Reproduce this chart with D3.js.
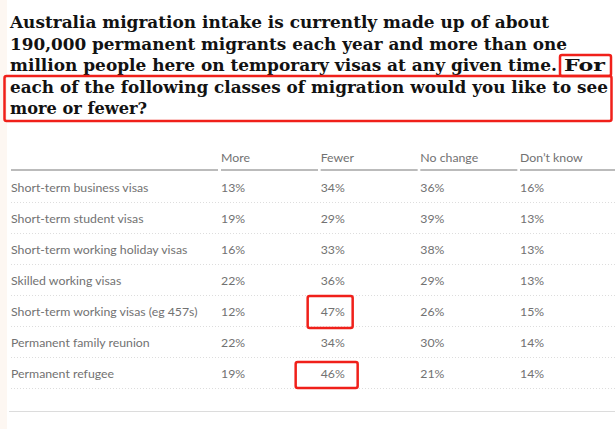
<!DOCTYPE html>
<html>
<head>
<meta charset="utf-8">
<script src="https://cdn.jsdelivr.net/npm/d3@7"></script>
<style>
  body { margin: 0; background: #fff; }
  svg { display: block; }
</style>
</head>
<body>
<div id="chart"></div>
<script>
// survey categories and answer columns
const categories = [
  'Short-term business visas',
  'Short-term student visas',
  'Short-term working holiday visas',
  'Skilled working visas',
  'Short-term working visas (eg 457s)',
  'Permanent family reunion',
  'Permanent refugee'
];
const columns = ['More', 'Fewer', 'No change', 'Don\u2019t know'];
const more = [13, 19, 16, 22, 12, 22, 19];
const fewer = [34, 29, 33, 36, 47, 34, 46];
const noChange = [36, 39, 38, 29, 26, 30, 21];
const dontKnow = [16, 13, 13, 13, 15, 14, 14];
// title pieces: [text, x, line, width it has in the original]
const titleParts = [
  ['Australia migration intake is currently made up of about', 10, 0, 539],
  ['190,000 permanent migrants each year and more than one', 10, 1, 557],
  ['million people here on temporary visas at any given time.', 10, 2, 547],
  ['For', 564, 2, 41],
  ['each of the following classes of migration would you like to see', 10, 3, 598],
  ['more or fewer?', 10, 4, 137]
];
// cells circled in the picture: [row, column]
const highlighted = [[4, 1], [6, 1]];

const W = 615, H = 429;
const svg = d3.select('#chart').append('svg').attr('width', W).attr('height', H);

// pale strip on the left edge
svg.append('rect').attr('x', 0).attr('y', 0).attr('width', 7).attr('height', H).attr('fill', '#fdf7f2');

// title
const title = svg.append('text')
  .attr('font-family', '"DejaVu Serif", serif')
  .attr('font-weight', 'bold')
  .attr('font-size', 16.8)
  .attr('fill', '#121212');
titleParts.forEach(p => {
  title.append('tspan').attr('x', p[1]).attr('y', 28 + p[2] * 21.5)
    .attr('textLength', p[3]).attr('lengthAdjust', 'spacingAndGlyphs')
    .text(p[0]);
});

// red annotation boxes on the title
svg.append('rect').attr('x', 560).attr('y', 55).attr('width', 51).attr('height', 21).attr('rx', 2)
  .attr('fill', 'none').attr('stroke', '#f0201a').attr('stroke-width', 2.5);
svg.append('rect').attr('x', 4.5).attr('y', 76).attr('width', 607).attr('height', 45).attr('rx', 2)
  .attr('fill', 'none').attr('stroke', '#f0201a').attr('stroke-width', 2.5);

// table
const values = [more, fewer, noChange, dontKnow];
const colX = d3.scalePoint().domain(columns).range([221, 520]);
const colW = 97;
const y = d3.scaleBand().domain(categories).range([172, 389]);
const font = 'Lato, "Open Sans", sans-serif';
const grey = '#727272';

const table = svg.append('g').attr('font-family', font).attr('font-size', 12.3).attr('fill', grey);

// header
table.selectAll('.head').data(columns).enter().append('text')
  .attr('x', d => colX(d)).attr('y', 162).text(d => d);
const segs = [[11, 218]].concat(columns.map(c => [colX(c), colX(c) + colW]));
svg.selectAll('.hline').data(segs).enter().append('line')
  .attr('x1', d => d[0]).attr('x2', d => Math.min(d[1], W))
  .attr('y1', 170).attr('y2', 170)
  .attr('stroke', '#bbbbbb').attr('stroke-width', 2);

// rows
const rows = table.selectAll('.row').data(categories).enter().append('g')
  .attr('transform', d => 'translate(0,' + y(d) + ')');
rows.append('text').attr('x', 11).attr('y', y.bandwidth() / 2 + 4.5).text(d => d);
rows.each(function(d, i) {
  d3.select(this).selectAll('.val').data(columns).enter().append('text')
    .attr('x', c => colX(c)).attr('y', y.bandwidth() / 2 + 4.5)
    .text((c, j) => values[j][i] + '%');
});
rows.append('line')
  .attr('x1', 11).attr('x2', W).attr('y1', y.bandwidth() - 0.5).attr('y2', y.bandwidth() - 0.5)
  .attr('stroke', '#dddddd').attr('stroke-width', 1).attr('stroke-dasharray', '1,2');

// bottom rule
svg.append('line').attr('x1', 9).attr('x2', W).attr('y1', 411.5).attr('y2', 411.5)
  .attr('stroke', '#dcdcdc').attr('stroke-width', 1);

// red boxes around highlighted cells
const boxW = [45, 62];
const boxOff = [-13, -25];
highlighted.forEach((h, k) => {
  const cat = categories[h[0]];
  svg.append('rect')
    .attr('x', colX(columns[h[1]]) + boxOff[k])
    .attr('y', y(cat) + (k === 0 ? 0 : 4))
    .attr('width', boxW[k]).attr('height', k === 0 ? 32 : 26).attr('rx', 2)
    .attr('fill', 'none').attr('stroke', '#f0201a').attr('stroke-width', 2.5);
});
</script>
</body>
</html>
